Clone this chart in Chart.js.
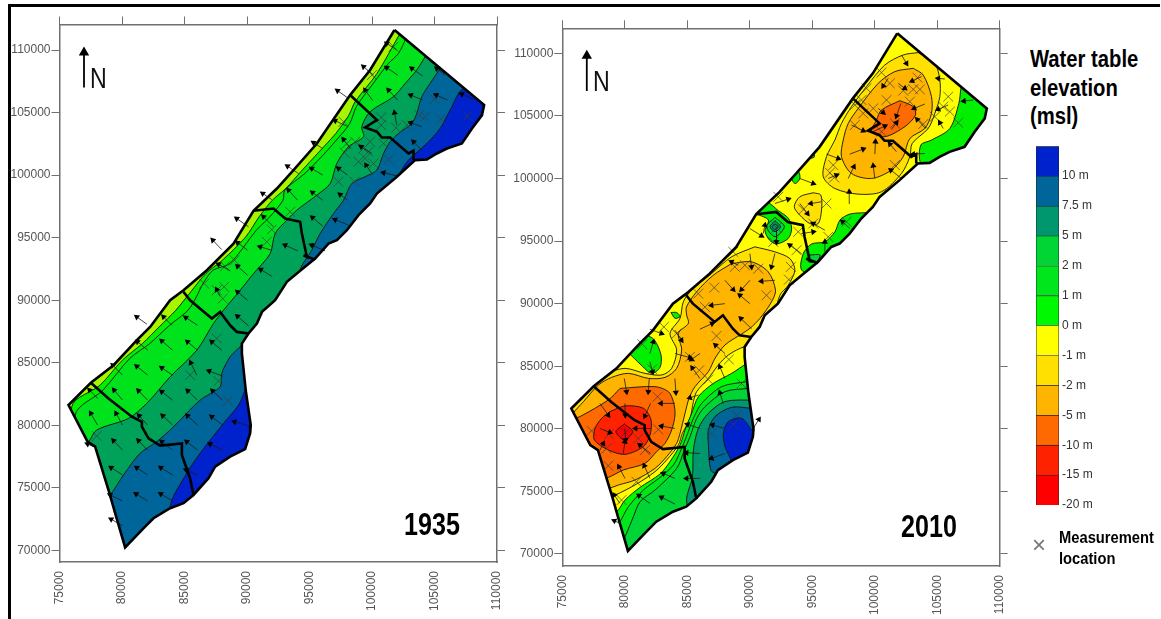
<!DOCTYPE html>
<html>
<head>
<meta charset="utf-8">
<title>Water table elevation</title>
<script src="https://cdn.jsdelivr.net/npm/chart.js@4/dist/chart.umd.min.js"></script>
<style>
    body { margin: 0; background: #fff; width: 1161px; height: 619px; overflow: hidden; position: relative; font-family: "Liberation Sans", Arial, sans-serif; }
    canvas { position: absolute; }
    .rule { position: absolute; background: #000; }
    .txt { position: absolute; white-space: nowrap; color: #000; transform-origin: left top; }
    .year { font-size: 31px; font-weight: bold; line-height: 31px; transform: scaleX(0.81); }
    .north { font-size: 29px; line-height: 29px; color: #111; transform: scaleX(0.8); }
    .heading { font-size: 23px; font-weight: bold; line-height: 28.7px; transform: scaleX(0.88); }
    .keytext { font-size: 16px; font-weight: bold; line-height: 21px; transform: scaleX(0.92); }
</style>
</head>
<body>
<div class="rule" style="left:8px;top:4px;width:1152px;height:3px"></div>
<div class="rule" style="left:8px;top:4px;width:3px;height:615px"></div>
<canvas id="map1935" style="left:11px;top:8px"></canvas>
<canvas id="map2010" style="left:512px;top:8px"></canvas>
<canvas id="scaleBar" style="left:1036px;top:136px"></canvas>
<div class="txt year" style="left:404px;top:509px">1935</div>
<div class="txt year" style="left:901px;top:511px">2010</div>
<div class="txt north" style="left:90px;top:64px">N</div>
<div class="txt north" style="left:593px;top:67px">N</div>
<div class="txt heading" style="left:1030px;top:45px">Water table<br>elevation<br>(msl)</div>
<div class="txt" style="left:1032px;top:532px;font-size:24px;line-height:26px;color:#777;font-weight:300">×</div>
<div class="txt keytext" style="left:1059px;top:527px">Measurement<br>location</div>
<script>
// tick labels of both maps
const eastTicks = [75000, 80000, 85000, 90000, 95000, 100000, 105000, 110000];
const northTicks = [70000, 75000, 80000, 85000, 90000, 95000, 100000, 105000, 110000];

// strip outline and district lines, same for both years (easting, northing in m)
const outline = [[101800,111600],[108970,105600],[108800,104800],[108000,103730],[107190,102530],[105990,102130],[105190,101730],[104390,101250],[103450,101200],[101990,99870],[100390,98530],[99850,97730],[98920,96800],[97990,95600],[97190,94800],[96520,94530],[95450,93330],[94250,92350],[93190,91470],[92250,90000],[91200,89070],[90790,88140],[90120,87340],[89590,86540],[89590,85750],[89900,82800],[90300,80000],[90250,79360],[89850,78100],[88650,77500],[87450,76700],[86920,75770],[85720,74440],[84920,73780],[83850,73380],[82520,72580],[81850,71910],[80250,70240],[79450,72980],[79000,74570],[77850,78300],[77240,78700],[75720,81620],[77510,83400],[79320,84810],[81190,86810],[82250,87870],[83850,90000],[84920,90800],[86790,92400],[88920,94530],[90520,97150],[92390,98930],[93720,100400],[95590,102530],[98250,106400],[99850,108400]];
const district1 = [[98250,106400],[100390,104400],[99450,103810],[100390,103470],[100790,103010],[101450,103010],[102920,101730],[103320,101950],[103320,101200]];
const district2 = [[90520,97150],[92120,97330],[93050,96530],[94250,96270],[94390,95330],[94790,93470],[94520,93600],[95450,93250]];
const district3 = [[84920,90670],[85450,90000],[87190,88540],[87850,89070],[88650,88000],[89190,87470],[90120,87340]];
const district4 = [[77510,83400],[78920,82150],[80790,80690],[81590,80290],[81590,79890],[82120,78960],[83050,78380],[84790,78560],[84790,77630],[85450,75770],[85720,74440]];
const northArrow = [[76960,107000],[76960,109800]];

// 1935 contour bands
const band1935b = [[102170,111200],[100400,108130],[98650,105870],[98150,104800],[97100,103330],[95770,101870],[94300,100270],[93100,98930],[92030,98000],[90970,96670],[89900,95070],[88030,93200],[86700,92130],[85500,90670],[84300,89200],[82970,87870],[81630,86540],[80030,85210],[78250,83220],[75980,81490],[76000,69500],[109800,69500],[109800,111900],[102800,111900]];
const band1935c = [[102780,111070],[102120,109730],[101320,108930],[100100,107330],[98750,105470],[98220,104130],[97150,102800],[96080,101600],[94620,100130],[93020,98800],[92880,98000],[91820,96670],[90750,95600],[88620,92930],[87280,92400],[86480,91330],[85950,90270],[85280,89200],[83820,88010],[82220,86540],[80620,85350],[78480,82820],[76250,80820],[76300,69500],[109800,69500],[109800,111900],[103200,111900]];
const band1935d = [[104250,109470],[103580,108400],[102650,107330],[101720,106270],[99850,105070],[99180,103870],[99320,103070],[98120,102270],[97180,100930],[96650,99330],[95580,98400],[93980,97200],[93180,96400],[92250,95330],[91850,93730],[90520,92130],[89450,90800],[88120,89200],[87320,88140],[85980,86010],[83850,83880],[81980,81760],[80520,80560],[77980,79630],[77320,78700],[76800,78400],[76800,69500],[109800,69500],[109800,111900],[105000,111900]];
const band1935eNorth = [[105450,108530],[104650,107330],[103980,106270],[103580,104930],[103180,104130],[102120,103330],[101450,102670],[100920,101730],[100380,100400],[99450,99870],[98380,99330],[97720,98000],[96920,96930],[95850,95330],[95180,94000],[94250,92350],[95000,91500],[109800,91500],[109800,110000],[106500,110000]];
const band1935eSouth = [[89580,86410],[88650,85480],[87980,84150],[87850,83090],[86250,82020],[84120,79890],[82780,78700],[81450,77770],[80120,76040],[79050,74440],[78400,74000],[78400,69500],[92000,69500],[92000,86410]];
const band1935fNorth = [[102120,100000],[102920,101200],[104380,102530],[105450,103730],[106250,105200],[107320,106930],[109800,106930],[109800,99500],[102500,99500]];
const band1935fSouth = [[89900,82950],[89320,81620],[88120,80160],[86250,77770],[85180,76170],[83850,73510],[84500,71500],[92000,71500],[92000,82950]];

// 2010 contour bands
const north2010a = [[103480,110060],[104810,109200],[105210,107870],[105210,106540],[104810,105200],[104280,104000],[103000,102800],[102810,101740],[102140,100400],[100540,98940],[98680,98750],[96810,99200],[95880,100140],[96140,101740],[96810,103070],[97340,104400],[98140,105740],[99340,107340],[100810,109070],[102280,109870]];
const north2010b = [[103080,108800],[103880,108270],[104540,106540],[104540,105200],[104010,104000],[102810,103200],[102280,101740],[101340,100670],[99740,100000],[98140,100400],[97340,101740],[97480,103070],[97880,104400],[98680,105600],[100280,107600],[101610,108540]];
const north2010c = [[102010,106220],[103080,105740],[103260,105070],[102410,104140],[100810,103340],[99740,103740],[100140,104670],[100540,105470]];
const mid2010a = [[95080,98860],[95690,98670],[95740,97470],[95480,96400],[94810,96400],[94010,97070],[93560,97740],[94010,98540]];
const south2010a = [[90410,94540],[92010,94140],[93210,93600],[93610,92670],[93080,91470],[92410,90670],[91500,87500],[90500,86500],[89620,86570],[88290,85900],[87490,85100],[86690,84030],[85750,82970],[85490,82170],[85220,80830],[84610,79640],[84290,78710],[83350,77510],[82420,76580],[80950,75590],[79220,74710],[78150,74440],[76800,78000],[75100,81500],[76500,83500],[77490,83370],[78690,84430],[80020,84830],[81620,84430],[82950,84300],[83750,84830],[84150,86300],[83620,87630],[84420,88830],[84680,90140],[85340,91070],[86940,92400],[88540,93740]];
const south2010b = [[88540,93200],[90140,93340],[91480,92540],[92060,91070],[91740,90140],[90820,88830],[90020,88030],[89350,87580],[88020,86700],[87220,85630],[86690,84570],[85620,83370],[85140,82430],[84820,81230],[84420,79640],[84150,78840],[83350,77780],[82420,76840],[80820,75910],[79490,75510],[78550,75160],[77890,74980],[76820,78310],[75490,80710],[75890,81290],[76690,82170],[77890,83500],[78950,84110],[80290,84430],[81890,84030],[83220,84110],[84150,84830],[84550,86300],[84290,87630],[85090,88430],[84950,89100],[84940,89740],[85740,90940],[87080,92270]];
const south2010c = [[79620,83230],[82420,83370],[83490,82970],[83890,82170],[84020,81110],[83750,79910],[83220,78840],[82550,78180],[81620,77240],[79890,76710],[78690,76120],[77890,75910],[76820,79110],[75750,80710],[76420,80980],[78690,82310]];
const south2010d = [[78820,81380],[80020,81830],[81490,81640],[82100,80710],[82020,79510],[81490,78580],[80020,77960],[78690,78310],[77570,79110],[77620,80040],[78150,80840]];
const south2010e = [[79970,80390],[80630,79780],[79970,79110],[79300,79780]];
const green2010a = [[89750,85230],[88550,84430],[87090,83630],[85890,82570],[85350,81230],[84820,79910],[84420,78710],[83620,77380],[82820,76390],[81220,75320],[80020,74310],[79350,73380],[78420,73110],[78420,69200],[92550,69200],[92550,85230]];
const green2010b = [[89750,83770],[87750,83370],[86150,82030],[85490,80830],[85030,79640],[84550,78440],[83890,77110],[82820,76120],[81490,75110],[80290,73780],[79620,72580],[78950,71640],[78950,69500],[92550,69500],[92550,83770]];
const green2010c = [[89890,83230],[88020,82970],[86420,81770],[85750,80830],[85220,79380],[84770,78310],[84150,76840],[82420,75110],[81220,74180],[80690,72980],[80020,71380],[79220,69780],[92550,69780],[92550,83230]];
const teal2010 = [[90290,82310],[88020,82180],[86690,81240],[85890,80040],[85490,78310],[85410,76180],[84950,74180],[85890,71640],[92550,71640],[92550,82310]];
const blue2010 = [[90150,81640],[88550,81720],[87220,80980],[86690,79910],[86690,78840],[86870,76710],[87270,76390],[88550,74840],[92550,74840],[92550,81640]];
const indigo2010 = [[90150,79910],[89350,80840],[88290,80580],[87890,79640],[88020,78580],[88550,77430],[89090,76180],[92550,76180],[92550,79910]];
const greenNorth2010 = [[106890,107200],[106730,106000],[106010,104000],[104540,103070],[103690,102670],[103690,101200],[105070,100140],[109800,100140],[109800,107200]];
const greenEast2010 = [[99300,97270],[98020,97160],[97220,96680],[96820,95750],[96020,94950],[94950,94770],[94290,94020],[94150,92690],[95620,92160],[100420,96420]];
const greenEastDot2010 = [[94820,93890],[95620,93890],[95350,93360],[94680,93360]];
const greenCoast2010 = [[81620,87580],[82370,87100],[82900,85900],[82820,84910],[82150,84430],[81220,85180],[80340,86030],[79490,86700],[80820,88170]];
const greenMid2010 = [[90550,97160],[91350,98070],[92290,97430],[93090,96820],[93350,96020],[93090,95220],[92150,94770],[91570,95090],[91220,95830],[91490,96680]];
const ring2010a = [[92020,96900],[92770,96150],[92020,95350],[91350,96150]];
const ring2010b = [[92020,96630],[92470,96150],[92020,95750],[91620,96150]];
const ring2010c = [[92020,96380],[92270,96150],[92020,95900],[91800,96150]];
const leaf2010 = [[83700,89290],[84150,89290],[84420,88970],[84020,88830]];
const patch2010a = [[94600,101600],[95150,101700],[95100,102200],[94900,102500]];
const patch2010b = [[93080,99740],[93880,100540],[94010,100000],[93610,99600],[93000,100500]];

// flow arrows: head easting, head northing, tail easting, tail northing
const arrows1935 = [[99320,108670,100120,108000],[101180,110530,101980,110000],[101180,108590,102040,108000],[103180,108530,104060,107920],[105180,108530,105850,108000],[107180,106480,108120,106050],[105130,106400,106040,106000],[103100,106400,104060,106000],[101320,106800,102040,106000],[99450,106800,100060,105950],[97240,106750,98120,106130],[97050,104350,97980,103920],[101800,104990,101980,104000],[103100,104190,103980,103870],[95320,102590,96060,102130],[97720,102850,98250,102130],[99130,102270,99980,101730],[103320,102670,103980,102000],[99530,100800,99980,100130],[97320,100530,98040,100000],[95180,100530,96060,100000],[93240,100720,94120,100130],[100920,100190,101980,99950],[91260,98530,91980,98050],[93320,98800,94040,98000],[95240,98610,96060,98000],[97450,98450,98040,98000],[89180,96530,90120,95870],[95240,96610,96060,95920],[97050,96450,98120,96000],[91320,96670,92120,95870],[87260,94800,87980,94050],[89240,94610,90040,94000],[91050,94270,91980,94000],[93050,94400,94060,93950],[95180,94400,96250,93950],[87720,92880,88650,92350],[89240,92720,90040,92000],[91100,92450,91980,91920],[87580,90850,87850,90320],[89240,90670,90040,90000],[81180,88670,81980,88090],[83320,88670,83980,88000],[85100,88620,86040,88000],[89240,88720,90120,87950],[81240,86680,82060,86010],[83180,86760,84040,86010],[85240,86680,86040,86010],[87180,86680,87980,86010],[79260,84810,80040,84020],[81180,84730,82040,84020],[83180,84600,84040,84020],[85500,85000,85980,84020],[86970,84340,88040,83940],[77400,82820,78060,82150],[79370,82820,80040,82020],[81320,82770,82040,82020],[83180,82690,84040,82020],[85260,82770,86040,82020],[87240,82770,88040,82020],[77500,80960,78040,80030],[79530,80960,80040,80030],[81370,80770,82040,80030],[83260,80770,84040,80030],[85240,80770,86040,80030],[87180,80690,88040,80030],[89000,80290,90120,79970],[79320,78780,80040,78030],[81320,78780,82040,78030],[83180,78700,84040,78030],[85180,78700,86040,78030],[87050,78510,88040,78030],[77240,78510,77720,78300],[79130,76620,80040,76040],[81180,76620,82040,76040],[83100,76620,84040,76040],[85130,76440,86040,76040],[79050,74440,80040,73960],[81130,74520,82040,73960],[83100,74520,84040,73960],[79130,72500,80040,71970]];
const arrows2010 = [[102540,109200,102140,109870],[105080,108000,105610,107950],[100680,107390,101080,108000],[102990,107790,103740,108140],[102410,107200,101880,107600],[107130,106190,107880,106270],[103160,105600,104010,105950],[105080,105520,105880,105870],[101740,104990,102090,106000],[100680,105260,100280,105600],[103400,104720,104060,104000],[105210,104460,105480,104000],[100810,104190,99880,103740],[101740,104460,101340,103920],[99080,103820,98140,104270],[100060,102940,100010,101950],[101210,102750,101740,102140],[103080,101950,104010,102000],[99080,102350,98010,101950],[97080,101600,96140,101950],[98330,100940,97880,100000],[99880,101020,100010,100000],[101290,100670,102140,100000],[96940,100270,96280,100000],[95080,99600,94010,100000],[97960,98940,98010,98000],[93080,98350,92010,98000],[94890,98000,95740,98140],[94620,97200,94010,98000],[95080,96400,96010,95870],[97420,96540,98010,96000],[91210,96270,91080,95600],[95080,95740,94140,95600],[90940,95420,90010,96000],[92140,94940,92140,95870],[93210,94670,94140,94000],[96010,94940,96010,94140],[91740,92940,92010,94000],[90140,92940,90010,94000],[88540,93340,89080,93070],[88680,91120,88010,91870],[89340,91120,90010,91870],[90940,91790,92010,91870],[89210,90670,90010,90000],[86940,89870,88010,90000],[86990,88410,86010,87960],[89290,88810,90140,88010],[82940,87610,82010,87960],[84540,87080,84010,87880],[82280,86950,82010,86020],[85210,85690,84010,86020],[85340,85540,86010,86020],[87260,86680,88010,86020],[85400,84870,86010,84020],[87610,84950,88010,84020],[82220,84550,82010,85350],[80140,82960,79960,84020],[81880,82960,81960,84020],[84090,82900,84010,84020],[85210,82480,85900,82700],[87610,82880,87880,82020],[82890,82030,84010,82030],[78680,81100,78010,82030],[81610,81020,82060,82030],[80040,81090,80010,82030],[85020,80350,86010,80030],[87020,80300,88010,80030],[82940,80220,84010,80030],[80860,80030,82060,80030],[78810,79710,78010,80030],[90730,80750,90280,80030],[80060,79100,80010,80030],[78280,78830,78010,78300],[81210,78700,82060,78030],[80010,78970,79880,78030],[84940,78090,86010,78030],[86940,77640,88010,78030],[79530,76970,80010,76040],[81560,77050,82010,76040],[83080,76440,84010,76040],[84940,76040,86010,76040],[79160,74710,79610,74050],[81130,74660,82010,74050],[82940,74530,84010,73990],[79160,72660,79610,72450]];

// measurement locations
const wells1935 = [[101720,110270],[100000,108000],[104990,106080],[100730,104610],[100730,104000],[101930,103790],[102780,104000],[103800,104800],[104250,104670],[105500,104450],[107640,104720],[97720,104270],[97980,102530],[97800,101790],[98650,102670],[99850,102670],[99320,102130],[99720,101870],[100920,102530],[98920,101070],[99450,101330],[100120,100930],[101320,101250],[97320,99470],[98600,99470],[93450,97070],[91980,95650],[91580,94670],[88250,92720],[89000,93200],[86570,91330],[88170,91070],[87580,90800],[88060,90130],[87580,86940],[87720,83540],[85450,84020],[88460,81970],[77980,79150]];
const wells2010 = [[100540,108460],[103420,108060],[101210,107600],[102280,107020],[103080,107120],[103610,107120],[99340,107200],[98940,106270],[100940,106270],[102810,106140],[105880,106540],[105480,105740],[99880,105600],[104810,104940],[106010,105340],[106680,104460],[103880,104350],[101610,104400],[100540,103740],[99080,105200],[98410,104270],[98410,105870],[96680,101070],[96410,100460],[96760,100080],[101610,101070],[92280,98540],[96140,98000],[94280,97520],[97740,96540],[95080,96400],[92140,96080],[93880,95740],[96280,95340],[91880,94940],[88680,94140],[93740,94270],[93290,92940],[93130,91920],[88810,92940],[89610,93070],[90680,92800],[87160,91280],[85880,90800],[91340,90670],[86410,89740],[87340,87420],[83130,88140],[81400,86760],[84140,87610],[85210,85750],[85960,84680],[88330,85540],[86680,83940],[82200,84760],[82620,82560],[89340,83620],[88940,81090],[88700,80350],[86940,79630],[82680,79950],[81080,79230],[78730,79580],[77340,79840],[80060,79690],[78680,77050],[78540,78440],[81610,78300],[80940,75770],[79740,74310]];

// colour scale
const scaleLabels = ['-20 m', '-15 m', '-10 m', '-5 m', '-2 m', '-1 m', '0 m', '1 m', '2 m', '5 m', '7.5 m', '10 m'];
const scaleColors = ['#ff0000', '#ff2200', '#ff6a00', '#ffb400', '#ffe000', '#ffff00', '#00f800', '#00e61c', '#00d535', '#00966e', '#006699', '#0022cc'];

const layers1935 = [
    [band1935b, '#00f000'], [band1935c, '#00e31c'], [band1935d, '#00a25a'],
    [band1935eNorth, '#006699'], [band1935eSouth, '#006699'],
    [band1935fNorth, '#0022cc'], [band1935fSouth, '#0022cc']
];
const layers2010 = [
    [north2010a, '#ffe000'], [mid2010a, '#ffe000'], [south2010a, '#ffe000'],
    [north2010b, '#ffb400'], [south2010b, '#ffb400'], [north2010c, '#ff6a00'],
    [south2010c, '#ff6a00'], [south2010d, '#ff2200'], [south2010e, '#ff0000'],
    [green2010a, '#00f800'], [green2010b, '#00e61c'], [green2010c, '#00d535'],
    [teal2010, '#00966e'], [blue2010, '#006699'], [indigo2010, '#0022cc'],
    [greenNorth2010, '#00f000'], [greenEast2010, '#00f000'], [greenEastDot2010, '#00d535'],
    [greenCoast2010, '#00f000'], [greenMid2010, '#00f000'], [ring2010a, '#00d535'],
    [ring2010b, '#00a25a'], [ring2010c, '#00966e'], [leaf2010, '#00f000'],
    [patch2010a, '#00f000'], [patch2010b, '#00f000']
];

function toPoints(pts) {
    return pts.map(p => ({ x: p[0], y: p[1] }));
}

function bandDataset(pts, color) {
    const closed = toPoints(pts.concat([pts[0]]));
    return {
        data: closed, fill: 'shape', backgroundColor: color, borderColor: '#111', borderWidth: 0.9,
        tension: 0.3, pointRadius: 0
    };
}

function boldLine(pts) {
    return { overlay: true, data: toPoints(pts), borderColor: '#000', borderWidth: 2.6, pointRadius: 0, fill: false };
}

function arrowPoints(list) {
    const out = [];
    list.forEach(a => {
        out.push({ x: a[2], y: a[3] });
        out.push({ x: a[0], y: a[1], angle: Math.atan2(a[0] - a[2], a[1] - a[3]) * 180 / Math.PI });
        out.push({ x: null, y: null });
    });
    return out;
}

function arrowDataset(list, headSize) {
    return {
        overlay: true, data: arrowPoints(list), borderColor: '#1a1a1a', borderWidth: 0.8, fill: false,
        pointStyle: 'triangle', pointBackgroundColor: '#000', pointBorderWidth: 0,
        pointRadius: c => (c.raw && c.raw.angle !== undefined ? headSize : 0),
        pointRotation: c => (c.raw && c.raw.angle !== undefined ? c.raw.angle : 0)
    };
}

function buildDatasets(baseColor, layers, arrows, wells) {
    const sets = [{ data: toPoints(outline.concat([outline[0]])), fill: 'shape', backgroundColor: baseColor, borderWidth: 0, pointRadius: 0 }];
    layers.forEach(l => sets.push(bandDataset(l[0], l[1])));
    sets.push({ overlay: true, data: toPoints(wells), showLine: false, pointStyle: 'crossRot', pointRadius: 7, pointBorderColor: '#3c3c3c', pointBorderWidth: 0.7 });
    sets.push(arrowDataset(arrows, 3.6));
    sets.push(boldLine(outline.concat([outline[0]])));
    [district1, district2, district3, district4].forEach(d => sets.push(boldLine(d)));
    sets.push({ overlay: true, data: [{ x: northArrow[0][0], y: northArrow[0][1] }, { x: northArrow[1][0], y: northArrow[1][1], angle: 0 }], borderColor: '#000', borderWidth: 1.8, fill: false, pointStyle: 'triangle', pointBackgroundColor: '#000', pointBorderWidth: 0, pointRadius: [0, 6] });
    sets.forEach((s, i) => { s.order = sets.length - i; });
    return sets;
}

// bands are cut to the strip outline, everything marked overlay is drawn on top uncut
const outlineClip = {
    id: 'outlineClip',
    beforeDatasetsDraw(chart) {
        const ctx = chart.ctx, sx = chart.scales.x, sy = chart.scales.y;
        ctx.save();
        ctx.beginPath();
        outline.forEach((p, i) => {
            const px = sx.getPixelForValue(p[0]), py = sy.getPixelForValue(p[1]);
            if (i === 0) ctx.moveTo(px, py); else ctx.lineTo(px, py);
        });
        ctx.closePath();
        ctx.clip();
        chart.$cut = true;
    },
    beforeDatasetDraw(chart, args) {
        if (chart.$cut && chart.data.datasets[args.index].overlay) {
            chart.ctx.restore();
            chart.$cut = false;
        }
    },
    afterDatasetsDraw(chart) {
        if (chart.$cut) {
            chart.ctx.restore();
            chart.$cut = false;
        }
    }
};

function axis(position, min, max, size, tickValues, labels, tickLen) {
    const horizontal = position === 'top' || position === 'bottom';
    return {
        type: 'linear', position: position, min: min, max: max, offset: false,
        afterBuildTicks: s => { s.ticks = tickValues.map(v => ({ value: v })); },
        afterFit: s => {
            if (horizontal) s.height = size; else s.width = size;
            s.paddingLeft = 0; s.paddingRight = 0; s.paddingTop = 0; s.paddingBottom = 0;
        },
        border: { display: true, color: '#707070', width: 1.5 },
        grid: { drawOnChartArea: false, drawTicks: tickLen > 0, tickLength: tickLen, tickColor: '#707070', tickWidth: 1 },
        ticks: {
            display: labels, autoSkip: false, padding: horizontal ? 9 : 1,
            color: '#555', font: { family: '"Liberation Sans", Arial, sans-serif', size: 12 },
            minRotation: horizontal ? 90 : 0, maxRotation: horizontal ? 90 : 0,
            callback: v => String(v)
        }
    };
}

function drawMap(id, w, h, datasets, yMin, yMax, left, right, top, bottom) {
    const canvas = document.getElementById(id);
    canvas.width = w;
    canvas.height = h;
    canvas.style.width = w + 'px';
    canvas.style.height = h + 'px';
    return new Chart(canvas, {
        type: 'line',
        data: { datasets: datasets },
        plugins: [outlineClip],
        options: {
            responsive: false, animation: false, devicePixelRatio: 1,
            layout: { padding: 0 },
            plugins: { legend: { display: false }, tooltip: { enabled: false }, title: { display: false } },
            scales: {
                x: axis('bottom', 75000, 110000, bottom, eastTicks, true, 0),
                xTop: axis('top', 75000, 110000, top, eastTicks, false, 8),
                y: axis('left', yMin, yMax, left, northTicks, true, 8),
                yRight: axis('right', yMin, yMax, right, northTicks, false, 8)
            }
        }
    });
}

function drawScaleBar() {
    const canvas = document.getElementById('scaleBar');
    canvas.width = 125;
    canvas.height = 380;
    canvas.style.width = '125px';
    canvas.style.height = '380px';
    new Chart(canvas, {
        type: 'bar',
        data: {
            labels: ['scale'],
            datasets: scaleColors.map(c => ({ data: [1], backgroundColor: c, borderColor: '#222', borderWidth: 0.8, barPercentage: 1, categoryPercentage: 1 }))
        },
        options: {
            responsive: false, animation: false, devicePixelRatio: 1,
            layout: { padding: { top: 10, bottom: 11, left: 0, right: 0 } },
            plugins: { legend: { display: false }, tooltip: { enabled: false } },
            scales: {
                x: { stacked: true, display: false },
                y: {
                    stacked: true, position: 'right', min: 0, max: 12,
                    afterFit: s => { s.width = 102; },
                    border: { display: false },
                    grid: { display: false, drawTicks: false },
                    ticks: {
                        stepSize: 1, padding: 3, color: '#333', autoSkip: false, includeBounds: false,
                        font: { family: '"Liberation Sans", Arial, sans-serif', size: 12 },
                        callback: v => (scaleLabels[v] !== undefined ? scaleLabels[v] : '')
                    }
                }
            }
        }
    });
}

drawMap('map1935', 499, 610, buildDatasets('#a8f500', layers1935, arrows1935, wells1935), 69080, 112040, 48.5, 13, 16.5, 56);
drawMap('map2010', 500, 610, buildDatasets('#ffff00', layers2010, arrows2010, wells2010), 69040, 112000, 50.3, 12.3, 20.3, 52);
drawScaleBar();
</script>
</body>
</html>
